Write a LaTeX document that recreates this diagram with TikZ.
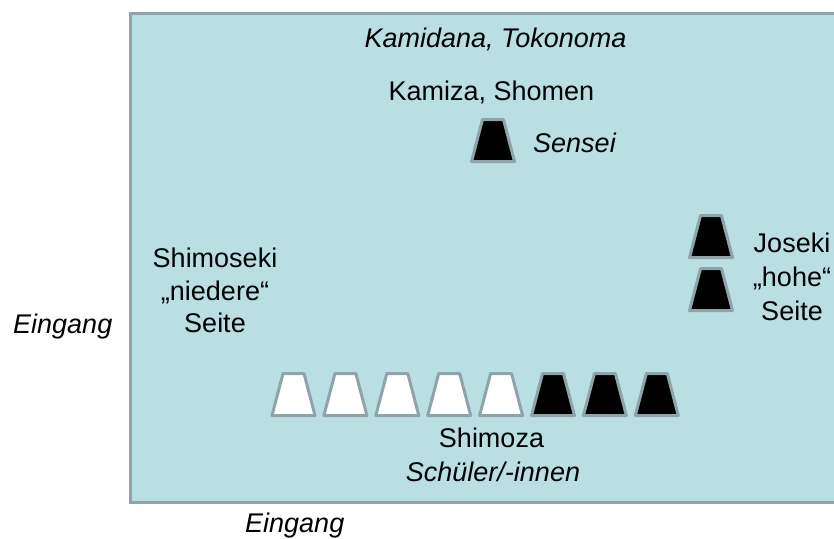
\documentclass[tikz,border=0pt]{standalone}
\usepackage{fontspec}
\setmainfont{Liberation Sans}
\definecolor{roomfill}{HTML}{BADFE3}
\definecolor{edge}{HTML}{8FA4A8}
\begin{document}
\begin{tikzpicture}[x=1pt,y=-1pt,
  lbl/.style={inner sep=0pt,font=\fontsize{27}{33}\selectfont,anchor=base},
  lblit/.style={lbl,font=\fontsize{27}{33}\selectfont\itshape},
  seatst/.style={draw=edge,line width=3pt,line join=round}]
\useasboundingbox (0,0) rectangle (834,538);
% room
\draw[draw=edge,fill=roomfill,line width=3pt] (130.5,13.5) rectangle (850,502);
% seat macro: center x, bottom y, fill
\newcommand\seatshape[3]{\draw[seatst,fill=#3] (#1-21.5,#2) -- (#1-10.5,#2-42) -- (#1+10.5,#2-42) -- (#1+21.5,#2) -- cycle;}
% Sensei
\seatshape{493}{161.5}{black}
% Joseki
\seatshape{711}{257.5}{black}
\seatshape{711}{310.5}{black}
% Shimoza row
\foreach \i in {0,...,4}{\seatshape{293.5+51.9*\i}{415.5}{white}}
\foreach \i in {5,6,7}{\seatshape{293.5+51.9*\i}{415.5}{black}}
% texts
\node[lblit] (kamidana) at (495.5,47) {Kamidana, Tokonoma};
\node[lbl] (kamiza) at (491.5,100) {Kamiza, Shomen};
\node[lblit,anchor=base west] (sensei) at (533,152) {Sensei};
\node[lbl] (shimo1) at (215,267) {Shimoseki};
\node[lbl] (shimo2) at (215,300) {„niedere“};
\node[lbl] (shimo3) at (215,332) {Seite};
\node[lblit,anchor=base west] (eing1) at (13,333) {Eingang};
\node[lbl] (jo1) at (792,252) {Joseki};
\node[lbl] (jo2) at (792,286) {„hohe“};
\node[lbl] (jo3) at (792,320) {Seite};
\node[lbl] (shimoza) at (491.5,447) {Shimoza};
\node[lblit] (schueler) at (493,481) {Schüler/-innen};
\node[lblit,anchor=base west] (eing2) at (245,532) {Eingang};
\end{tikzpicture}
\end{document}
